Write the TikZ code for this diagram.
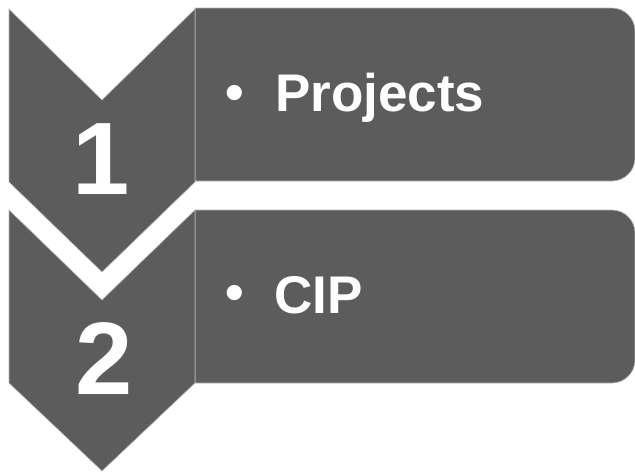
\documentclass[tikz,border=0pt]{standalone}
\usepackage{fontspec}
\setmainfont{Liberation Sans}
\begin{document}
\begin{tikzpicture}[x=1pt,y=-1pt,
  chev/.style={fill=chevgray,draw=gray!55,line width=0.6pt,line join=miter},
  tab/.style={fill=chevgray,draw=gray!55,line width=0.6pt},
  digit/.style={text=white,inner sep=0pt,anchor=base,font=\fontsize{103}{110}\selectfont\bfseries},
  label/.style={text=white,inner sep=0pt,anchor=base west,font=\fontsize{53}{60}\selectfont\bfseries},
  bul/.style={text=white,inner sep=0pt,anchor=center,font=\fontsize{53}{60}\selectfont\bfseries}]
\definecolor{chevgray}{HTML}{5C5C5C}
\useasboundingbox (0,0) rectangle (635,472);
% tabs
\path[tab] (195,8) [rounded corners=23pt] -- (635,8) -- (635,181) [sharp corners] -- (195,181) -- cycle;
\path[tab] (195,210) [rounded corners=23pt] -- (635,210) -- (635,383) [sharp corners] -- (195,383) -- cycle;
% chevrons
\path[chev] (9,9) -- (102,100) -- (195,9) -- (195,182) -- (102,272) -- (9,182) -- cycle;
\path[chev] (9,210) -- (102,300) -- (195,210) -- (195,383) -- (102,471) -- (9,383) -- cycle;
% digits
\node[digit] (n1) at (101,194) {1};
\node[digit] (n2) at (104,394) {2};
% labels
\node[bul] (b1) at (235,98) {\textbullet};
\node[label] (t1) at (275,111) {Projects};
\node[bul] (b2) at (235,298) {\textbullet};
\node[label] (t2) at (274,313) {CIP};
\end{tikzpicture}
\end{document}
